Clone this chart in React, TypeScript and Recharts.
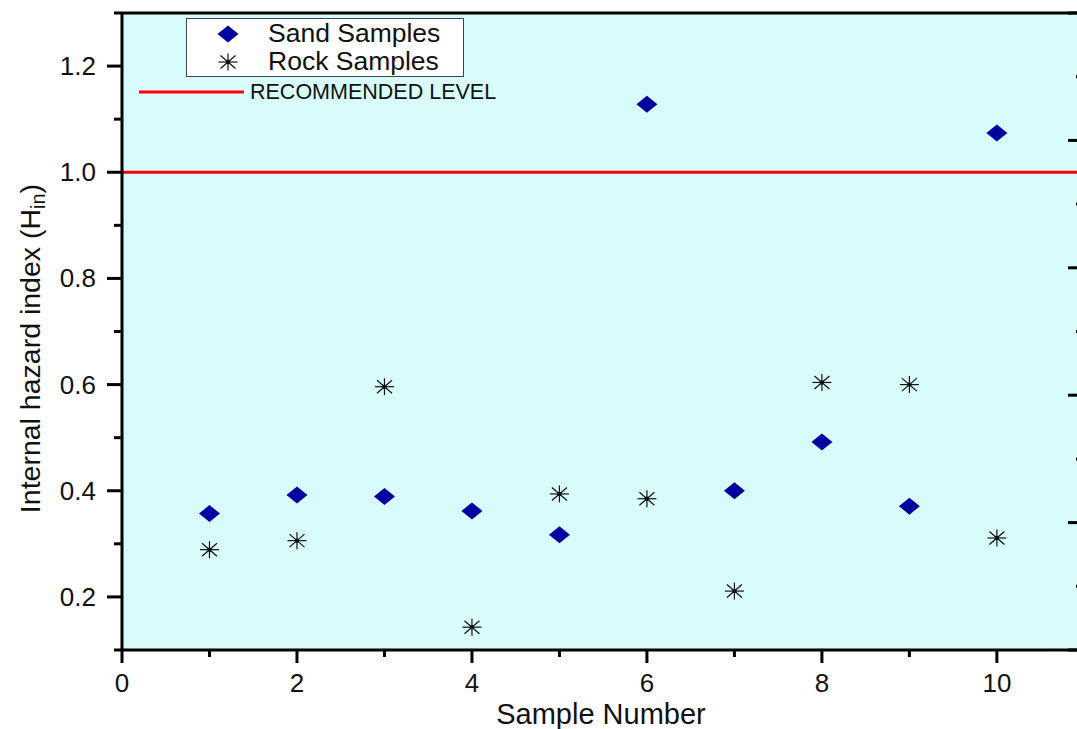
import {
  CartesianGrid,
  ReferenceLine,
  Scatter,
  ScatterChart,
  XAxis,
  YAxis,
} from "recharts";

// Internal hazard index per sample
const sampleNumbers = [1, 2, 3, 4, 5, 6, 7, 8, 9, 10];
const sandHin = [0.357, 0.392, 0.389, 0.362, 0.317, 1.128, 0.4, 0.492, 0.371, 1.074];
const rockHin = [0.289, 0.306, 0.596, 0.143, 0.394, 0.385, 0.211, 0.604, 0.6, 0.311];
const recommendedLevel = 1.0;

// axis ticks (odd ones are minor, unlabeled)
const xTicks = [0, 1, 2, 3, 4, 5, 6, 7, 8, 9, 10];
const yTicks = [0.1, 0.2, 0.3, 0.4, 0.5, 0.6, 0.7, 0.8, 0.9, 1.0, 1.1, 1.2, 1.3];
const topTicks = [1, 2, 3, 4, 5, 6, 7, 8, 9];
const rightTicks = [0, 1, 2, 3, 4, 5, 6, 7, 8, 9, 10];

const sandData = sampleNumbers.map((n, i) => ({ sample: n, hin: sandHin[i] }));
const rockData = sampleNumbers.map((n, i) => ({ sample: n, hin: rockHin[i] }));

const FONT = "'Liberation Sans', Arial, sans-serif";
const NAVY = "#0000a0";

const Diamond = ({ cx, cy }: any) => (
  <polygon
    points={`${cx},${cy - 8.5} ${cx + 10.5},${cy} ${cx},${cy + 8.5} ${cx - 10.5},${cy}`}
    fill={NAVY}
  />
);

const Asterisk = ({ cx, cy }: any) => (
  <g stroke="#111" strokeWidth={1.2}>
    <line x1={cx} y1={cy - 8.5} x2={cx} y2={cy + 8.5} />
    <line x1={cx - 9.5} y1={cy} x2={cx + 9.5} y2={cy} />
    <line x1={cx - 7.5} y1={cy - 6.5} x2={cx + 7.5} y2={cy + 6.5} />
    <line x1={cx - 7.5} y1={cy + 6.5} x2={cx + 7.5} y2={cy - 6.5} />
    <circle cx={cx} cy={cy} r={1.6} fill="#111" />
  </g>
);

const LeftTick = ({ x, y, payload }: any) => {
  const major = Math.round(payload.value * 10) % 2 === 0;
  return (
    <g>
      <line x1={x - (major ? 15 : 8)} y1={y} x2={x} y2={y} stroke="#000" strokeWidth={3} />
      {major && (
        <text x={x - 26} y={y + 9} textAnchor="end" fontSize={26} fontFamily={FONT} fill="#111">
          {payload.value.toFixed(1)}
        </text>
      )}
    </g>
  );
};

const BottomTick = ({ x, y, payload }: any) => {
  const major = payload.value % 2 === 0;
  return (
    <g>
      <line x1={x} y1={y} x2={x} y2={y + (major ? 13 : 7)} stroke="#000" strokeWidth={3} />
      {major && (
        <text x={x} y={y + 42} textAnchor="middle" fontSize={26} fontFamily={FONT} fill="#111">
          {payload.value}
        </text>
      )}
    </g>
  );
};

const TopTick = ({ x, y, payload }: any) => {
  const major = payload.value % 2 === 0;
  return <line x1={x} y1={y} x2={x} y2={y + (major ? 11 : 5)} stroke="#000" strokeWidth={3} />;
};

const RightTick = ({ x, y, payload }: any) => {
  const major = payload.value % 2 === 0;
  return <line x1={x - (major ? 12 : 4)} y1={y} x2={x} y2={y} stroke="#000" strokeWidth={3} />;
};

const YTitle = ({ viewBox }: any) => {
  const cx = viewBox.x + 30;
  const cy = viewBox.y + viewBox.height / 2 + 17;
  return (
    <text
      x={cx}
      y={cy}
      transform={`rotate(-90, ${cx}, ${cy})`}
      textAnchor="middle"
      dominantBaseline="central"
      fontSize={28.5}
      fontFamily={FONT}
      fill="#111"
    >
      Internal hazard index (H
      <tspan fontSize={20} dy={8}>in</tspan>
      <tspan dy={-8}>)</tspan>
    </text>
  );
};

const XTitle = ({ viewBox }: any) => (
  <text
    x={viewBox.x + viewBox.width / 2}
    y={viewBox.y + 74}
    textAnchor="middle"
    fontSize={29}
    fontFamily={FONT}
    fill="#111"
  >
    Sample Number
  </text>
);

const ChartLegend = () => (
  <svg width={1077} height={729} style={{ position: "absolute", left: 0, top: 0, pointerEvents: "none" }}>
    <rect x={186.5} y={18.5} width={277} height={58} fill="#fff" stroke="#444" strokeWidth={1} />
    <Diamond cx={228} cy={34} />
    <text x={268} y={42} fontSize={26.5} fontFamily={FONT} fill="#111">
      Sand Samples
    </text>
    <Asterisk cx={228} cy={62} />
    <text x={268} y={70} fontSize={26.5} fontFamily={FONT} fill="#111">
      Rock Samples
    </text>
    <line x1={139} y1={92} x2={244} y2={92} stroke="#ff0000" strokeWidth={3} />
    <text x={250} y={99} fontSize={21.5} fontFamily={FONT} fill="#111">
      RECOMMENDED LEVEL
    </text>
  </svg>
);

export default function App() {
  return (
    <div
      style={{
        position: "absolute",
        left: 0,
        top: 0,
        width: 1077,
        height: 729,
        overflow: "hidden",
        background: "#fff",
      }}
    >
      <ScatterChart width={1090} height={729} margin={{ top: 0, right: 0, bottom: 0, left: 0 }}>
        <CartesianGrid horizontal={false} vertical={false} fill="#d8fbfb" />
        <XAxis
          type="number"
          dataKey="sample"
          domain={[0, 10.95]}
          ticks={xTicks}
          interval={0}
          allowDataOverflow
          height={79}
          tickSize={0}
          tickMargin={0}
          tickLine={false}
          axisLine={{ stroke: "#000", strokeWidth: 3 }}
          tick={<BottomTick />}
          label={{ content: XTitle }}
        />
        <XAxis
          xAxisId="top"
          orientation="top"
          type="number"
          domain={[0, 9.95]}
          ticks={topTicks}
          interval={0}
          allowDataOverflow
          height={13}
          tickSize={0}
          tickMargin={0}
          tickLine={false}
          axisLine={{ stroke: "#000", strokeWidth: 3 }}
          tick={<TopTick />}
        />
        <YAxis
          type="number"
          dataKey="hin"
          domain={[0.1, 1.3]}
          ticks={yTicks}
          interval={0}
          allowDataOverflow
          width={122}
          tickSize={0}
          tickMargin={0}
          tickLine={false}
          axisLine={{ stroke: "#000", strokeWidth: 3 }}
          tick={<LeftTick />}
          label={{ content: YTitle }}
        />
        <YAxis
          yAxisId="right"
          orientation="right"
          type="number"
          domain={[0, 10]}
          ticks={rightTicks}
          interval={0}
          allowDataOverflow
          width={10}
          tickSize={0}
          tickMargin={0}
          tickLine={false}
          axisLine={{ stroke: "#000", strokeWidth: 3 }}
          tick={<RightTick />}
        />
        <ReferenceLine y={recommendedLevel} stroke="#ff0000" strokeWidth={3} />
        <Scatter name="Sand Samples" data={sandData} shape={<Diamond />} isAnimationActive={false} />
        <Scatter name="Rock Samples" data={rockData} shape={<Asterisk />} isAnimationActive={false} />
      </ScatterChart>
      <ChartLegend />
    </div>
  );
}
